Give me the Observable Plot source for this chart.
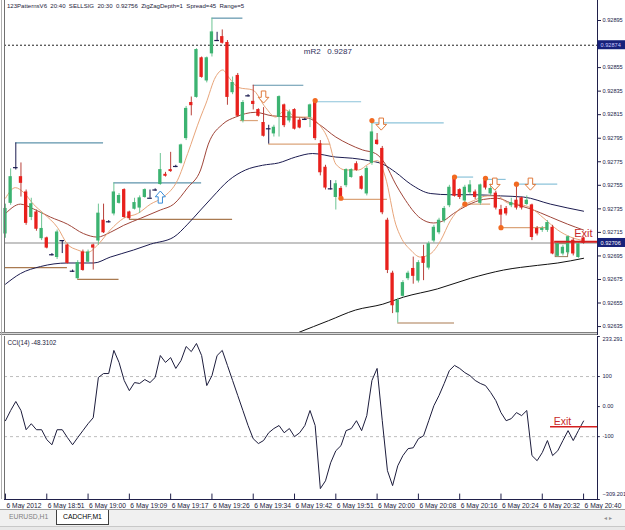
<!DOCTYPE html>
<html><head><meta charset="utf-8">
<script src="https://cdn.jsdelivr.net/npm/d3@7"></script>
<script src="https://cdn.jsdelivr.net/npm/@observablehq/plot@0.6"></script>
<style>
body{margin:0;background:#fff;}
#root{position:relative;width:625px;height:530px;overflow:hidden;background:#fff;font-family:"Liberation Sans",Arial,sans-serif;}
.abs{position:absolute;}
#header{left:7px;top:3px;font-size:6.05px;color:#1a1a3a;white-space:pre;}
#tabs{left:0;top:509px;width:625px;height:21px;background:#f0f0f0;border-top:1px solid #a0a0a0;}
.tab{position:absolute;top:0;height:14px;font-size:6.8px;line-height:14px;padding:0 6px;}
</style></head><body><div id="root">
<div id="main" class="abs" style="left:0;top:0"></div>
<div id="cci" class="abs" style="left:0;top:333px"></div>
<div id="header" class="abs">123PatternsV6  20:40  SELLSIG  20:30  0.92756  ZigZagDepth=1  Spread=45  Range=5</div>
<div class="abs" style="left:0;top:332px;width:597px;height:3px;background:#d8d8d8;border-top:1px solid #808080;border-bottom:1px solid #808080;box-sizing:border-box"></div>
<div class="abs" style="left:1px;top:0;width:1px;height:499px;background:#b0b0b0"></div>
<div id="tabs" class="abs">
  <div class="tab" style="left:3px;color:#808080;">EURUSD,H1</div>
  <div class="tab" style="left:56px;background:#fff;border:1px solid #404040;border-top:none;color:#000;">CADCHF,M1</div>
  <div class="tab" style="left:598px;top:4px;height:8px;line-height:8px;color:#909090;font-size:6px;">◂ ▸</div>
  <div class="abs" style="left:0;top:16px;width:625px;height:5px;background:#e8e8e8;border-top:1px solid #c8c8c8"></div>
</div>
</div>
<script>
// ---------- DATA ----------
const open  = [0.92714,0.92740,0.92770,0.92762,0.92749,0.92728,0.92732,0.92710,0.92710,0.92696,
 0.92694,0.92708,0.92704,0.92682,0.92676,0.92698,0.92690,0.92704,0.92708,0.92725,
 0.92724,0.92731,0.92740,0.92751,0.92732,0.92735,0.92736,0.92745,0.92744,0.92751,
 0.92756,0.92764,0.92768,0.92771,0.92774,0.92795,0.92825,0.92830,0.92863,0.92844,
 0.92867,0.92878,0.92881,0.92876,0.92834,0.92848,0.92810,0.92831,0.92826,0.92819,
 0.92808,0.92803,0.92799,0.92813,0.92823,0.92810,0.92819,0.92810,0.92811,0.92813,
 0.92827,0.92790,0.92770,0.92752,0.92745,0.92752,0.92755,0.92762,0.92773,0.92762,
 0.92748,0.92774,0.92793,0.92786,0.92725,0.92680,0.92647,0.92661,0.92676,0.92684,
 0.92674,0.92694,0.92685,0.92708,0.92715,0.92725,0.92738,0.92762,0.92751,0.92742,
 0.92749,0.92749,0.92740,0.92759,0.92748,0.92748,0.92734,0.92735,0.92738,0.92742,
 0.92744,0.92739,0.92738,0.92718,0.92717,0.92717,0.92719,0.92695,0.92697,0.92698,
 0.92708,0.92694,0.92710];
const high  = [0.92739,0.92769,0.92791,0.92774,0.92751,0.92744,0.92734,0.92732,0.92711,0.92697,
 0.92717,0.92708,0.92705,0.92683,0.92691,0.92700,0.92700,0.92705,0.92739,0.92739,
 0.92725,0.92757,0.92748,0.92752,0.92733,0.92744,0.92746,0.92752,0.92751,0.92752,
 0.92782,0.92766,0.92783,0.92772,0.92790,0.92822,0.92830,0.92871,0.92864,0.92864,
 0.92897,0.92885,0.92887,0.92878,0.92847,0.92850,0.92827,0.92832,0.92840,0.92820,
 0.92821,0.92806,0.92806,0.92831,0.92824,0.92819,0.92820,0.92812,0.92812,0.92824,
 0.92827,0.92793,0.92772,0.92759,0.92759,0.92754,0.92769,0.92769,0.92775,0.92763,
 0.92771,0.92810,0.92799,0.92788,0.92727,0.92682,0.92659,0.92674,0.92682,0.92694,
 0.92691,0.92704,0.92707,0.92721,0.92727,0.92737,0.92755,0.92762,0.92752,0.92755,
 0.92759,0.92751,0.92756,0.92761,0.92756,0.92750,0.92738,0.92737,0.92744,0.92756,
 0.92745,0.92746,0.92739,0.92720,0.92720,0.92725,0.92721,0.92707,0.92704,0.92712,
 0.92710,0.92707,0.92711];
const low   = [0.92710,0.92738,0.92768,0.92745,0.92721,0.92725,0.92716,0.92708,0.92701,0.92695,
 0.92692,0.92697,0.92688,0.92681,0.92675,0.92682,0.92689,0.92683,0.92704,0.92714,
 0.92723,0.92729,0.92739,0.92727,0.92726,0.92734,0.92731,0.92744,0.92744,0.92750,
 0.92755,0.92762,0.92766,0.92770,0.92773,0.92793,0.92814,0.92829,0.92846,0.92842,
 0.92864,0.92878,0.92875,0.92823,0.92832,0.92813,0.92808,0.92830,0.92819,0.92813,
 0.92796,0.92790,0.92796,0.92796,0.92804,0.92808,0.92802,0.92803,0.92810,0.92804,
 0.92793,0.92763,0.92751,0.92751,0.92734,0.92744,0.92753,0.92761,0.92767,0.92751,
 0.92746,0.92772,0.92789,0.92730,0.92680,0.92646,0.92638,0.92660,0.92674,0.92671,
 0.92672,0.92674,0.92683,0.92706,0.92713,0.92723,0.92736,0.92745,0.92743,0.92739,
 0.92747,0.92743,0.92738,0.92751,0.92746,0.92734,0.92719,0.92729,0.92736,0.92734,
 0.92734,0.92738,0.92708,0.92712,0.92715,0.92715,0.92696,0.92694,0.92695,0.92696,
 0.92695,0.92693,0.92705];
const close = [0.92735,0.92762,0.92770,0.92757,0.92723,0.92739,0.92718,0.92718,0.92702,0.92696,
 0.92715,0.92708,0.92689,0.92682,0.92689,0.92683,0.92698,0.92702,0.92731,0.92715,
 0.92724,0.92749,0.92746,0.92728,0.92727,0.92740,0.92744,0.92751,0.92744,0.92751,
 0.92768,0.92763,0.92767,0.92771,0.92789,0.92820,0.92823,0.92870,0.92847,0.92863,
 0.92885,0.92878,0.92876,0.92830,0.92842,0.92814,0.92825,0.92831,0.92824,0.92814,
 0.92797,0.92803,0.92804,0.92830,0.92806,0.92817,0.92803,0.92804,0.92811,0.92823,
 0.92795,0.92766,0.92753,0.92752,0.92756,0.92745,0.92768,0.92768,0.92768,0.92752,
 0.92769,0.92800,0.92790,0.92732,0.92683,0.92653,0.92657,0.92672,0.92680,0.92678,
 0.92689,0.92689,0.92705,0.92719,0.92725,0.92735,0.92753,0.92746,0.92745,0.92753,
 0.92755,0.92745,0.92755,0.92753,0.92752,0.92736,0.92730,0.92731,0.92740,0.92736,
 0.92736,0.92742,0.92711,0.92714,0.92718,0.92723,0.92697,0.92705,0.92702,0.92711,
 0.92697,0.92705,0.92706];

// moving averages (bar position, price)
const maFastIdx = [0,1.9,3.5,5.4,7.4,10.1,12,14,15.9,18,20.3,22.9,25.6,28.1,30.6,33.3,35.3,37.8,38.8,40.7,42.1,43.2,45.2,47.9,50.4,52.3,54.3,56.2,58.7,60.7,62.6,64,65.9,68.4,70.3,72.1,73.6,75.6,76.6,78.5,80.4,82.4,84.3,86.2,88.2,90.7,93.4,95.3,97.3,99.2,101.7,104.3,107,109.5,112];
const maFast = [0.92744,0.92753,0.92749,0.92739,0.92731,0.92719,0.92705,0.92700,0.92698,0.92705,0.92717,0.92727,0.92731,0.92739,0.92745,0.92759,0.92782,0.92813,0.92824,0.92847,0.92853,0.92847,0.92838,0.92836,0.92821,0.92813,0.92819,0.92813,0.92813,0.92807,0.92793,0.92773,0.92768,0.92768,0.92773,0.92776,0.92762,0.92722,0.92711,0.92700,0.92694,0.92697,0.92708,0.92725,0.92736,0.92742,0.92746,0.92746,0.92740,0.92739,0.92736,0.92727,0.92717,0.92711,0.92708];
const maMidIdx = [0,2.9,5.4,8.7,12,15.1,17.8,20.3,22.9,26.2,30,32.6,35.3,37.8,39.3,42.1,44.6,48.4,51.7,55.6,58.7,60.7,64,66.5,69.2,71.7,73.6,75.6,77.1,80.4,82.9,84.9,86.8,89.5,92.6,95.3,97.9,101.7,105.6,108.9,112];
const maMid = [0.92731,0.92739,0.92735,0.92728,0.92722,0.92714,0.92711,0.92715,0.92721,0.92727,0.92734,0.92739,0.92753,0.92768,0.92790,0.92807,0.92813,0.92817,0.92814,0.92813,0.92812,0.92807,0.92796,0.92790,0.92785,0.92782,0.92773,0.92756,0.92745,0.92727,0.92723,0.92725,0.92731,0.92738,0.92743,0.92744,0.92740,0.92735,0.92728,0.92722,0.92717];
const maSlowIdx = [0,2.9,6.8,12,17.1,20.3,24.8,28.1,32.6,35.3,37.8,40.1,43.2,46.5,49.8,52.9,56.2,59.5,64,67.2,70.3,73.1,75.6,78.5,82.4,86.2,90.7,95.9,100.4,105.6,112];
const maSlow = [0.92671,0.92680,0.92686,0.92689,0.92689,0.92694,0.92700,0.92705,0.92711,0.92722,0.92734,0.92745,0.92759,0.92768,0.92772,0.92774,0.92779,0.92782,0.92779,0.92778,0.92776,0.92773,0.92766,0.92756,0.92748,0.92747,0.92747,0.92746,0.92745,0.92739,0.92733];
const maLongIdx = [56.8,62.6,67.8,73.1,77.1,83.7,90.1,96.5,103.1,107,112];
const maLong = [0.92630,0.92640,0.92649,0.92654,0.92660,0.92667,0.92676,0.92683,0.92687,0.92689,0.92693];

// swing levels
const hiFrom = [2,21,40,48,60,71,87,93,99];
const hiTo   = [19,38,46,57.8,69,85,90.7,97,107];
const hiVal  = [0.92791,0.92757,0.92897,0.92840,0.92826,0.92808,0.92762,0.92760,0.92756];
const loFrom = [0,14,24,45.5,51,65,76,89,96];
const loTo   = [12,22,44,49,63,74,87,94,105];
const loVal  = [0.92685,0.92675,0.92726,0.92810,0.92790,0.92743,0.92638,0.92739,0.92719];
const dotIdx = [60,65,71,87,89,93,96,99];
const dotVal = [0.92827,0.92744,0.92810,0.92762,0.92739,0.92761,0.92719,0.92756];
const upArrIdx = [30], upArrVal = [0.92745];
const dnArrIdx = [50,72.8,94.8,101.7], dnArrVal = [0.92830,0.92807,0.92756,0.92756];
const boxFrom = 106.6, boxTo = 109, boxTop = 0.92705, boxBottom = 0.92694;

const mR2 = 0.92874, mR2Label = "mR2   0.9287", mR2Box = "0.92874";
const bid = 0.92706, bidLabel = "0.92706";
const exitPrice = 0.92707, exitFrom = 106.4;
const priceTicks = [0.92895,0.92855,0.92835,0.92815,0.92795,0.92775,0.92755,0.92735,0.92715,0.92695,0.92675,0.92655,0.92635];

// CCI(14)
const cci = [-47,-13,17,-13,-77,-57,-77,-77,-110,-127,-77,-77,-103,-127,-103,-80,-57,-37,97,110,
 110,187,147,87,53,80,77,90,80,97,170,147,163,127,153,200,183,210,170,70,
 103,170,187,137,87,37,-13,-63,-107,-123,-113,-87,-73,-63,-87,-73,-100,-87,-63,-13,
 -63,-273,-247,-187,-147,-130,-80,-73,-47,-80,-30,87,127,-47,-213,-263,-197,-163,-140,-137,
 -107,-97,-47,3,37,77,120,137,127,113,103,87,77,70,47,20,-20,-47,-40,-20,
 -30,-13,-163,-180,-153,-113,-163,-147,-113,-80,-113,-80,-48];
const cciMax = 233.291, cciMin = -309.201;
const cciLevels = [100,-100];
const cciTickVals = [100,0,-100], cciTickText = ["100","0.00","-100"];
const cciExit = -66.7, cciExitFrom = 105.6;

const timeIdx = [0,8,16,24,32,40,48,56,64,72,80,88,96,104,112];
const timeLabels = ["6 May 2012","6 May 18:51","6 May 19:00","6 May 19:09","6 May 19:17","6 May 19:26","6 May 19:34","6 May 19:42","6 May 19:51","6 May 20:00","6 May 20:08","6 May 20:16","6 May 20:24","6 May 20:32","6 May 20:40"];

// ---------- CHART ----------
const W = 625, H1 = 335, H2 = 177;
const xDom = [-0.19, 114.7], xEnd = 114.7, xFar = 120.2;
const GREEN = "#3cb371", RED = "#e8201c", NAVY = "#1c1c50";
const idx = d3.range(open.length);
const kind = i => open[i] === close[i] ? 0 : (close[i] > open[i] ? 1 : -1);
const bodies = idx.filter(i => kind(i) !== 0), dojis = idx.filter(i => kind(i) === 0);
const wickColor = i => kind(i) === 0 ? NAVY : kind(i) > 0 ? "#6cc493" : "#b8413a";
const series = (ix, v) => ix.map((x, k) => ({x, y: v[k]}));
const font = {fontFamily: "Liberation Sans, Arial, sans-serif", background: "transparent", overflow: "visible"};

const upArrow = {draw(c, size) { const s = Math.sqrt(size), w = s*0.52, h = s*0.62, t = w*0.42;
  c.moveTo(0,-h); c.lineTo(w,-h*0.05); c.lineTo(t,-h*0.05); c.lineTo(t,h); c.lineTo(-t,h); c.lineTo(-t,-h*0.05); c.lineTo(-w,-h*0.05); c.closePath(); }};
const downArrow = {draw(c, size) { const s = Math.sqrt(size), w = s*0.55, h = s*0.62, t = w*0.42;
  c.moveTo(0,h); c.lineTo(w,h*0.05); c.lineTo(t,h*0.05); c.lineTo(t,-h); c.lineTo(-t,-h); c.lineTo(-t,h*0.05); c.lineTo(-w,h*0.05); c.closePath(); }};

const main = Plot.plot({
  width: W, height: H1, marginLeft: 4, marginRight: 28, marginTop: 0, marginBottom: 0,
  style: font,
  x: {domain: xDom, axis: null, label: null},
  y: {domain: [0.926274, 0.92912], axis: null, label: null},
  color: {type: "identity"},
  marks: [
    Plot.ruleY([bid], {stroke: "#c4c4c4", strokeWidth: 2}),
    Plot.ruleY([mR2], {stroke: "#202020", strokeDasharray: "2,2"}),
    Plot.text([mR2Label], {x: 57.8, y: mR2, text: d => d, dy: 6, textAnchor: "start", fontSize: 8, fill: "#30305a"}),
    Plot.ruleY(hiVal.map((v, k) => k), {y: k => hiVal[k], x1: k => hiFrom[k], x2: k => hiTo[k], stroke: k => k >= 4 ? "#8cc3da" : "#5e93ab", strokeWidth: 1.2}),
    Plot.ruleY(loVal.map((v, k) => k), {y: k => loVal[k], x1: k => loFrom[k], x2: k => loTo[k], stroke: k => (k === 3 || k === 4 || k === 5 || k === 7 || k === 8) ? "#dba47a" : "#a97a50", strokeWidth: 1.2}),
    Plot.line(series(maSlowIdx, maSlow), {x: "x", y: "y", stroke: NAVY, strokeWidth: 1, curve: "monotone-x"}),
    Plot.line(series(maLongIdx, maLong), {x: "x", y: "y", stroke: "#111", strokeWidth: 1, curve: "monotone-x", clip: true}),
    Plot.line(series(maMidIdx, maMid), {x: "x", y: "y", stroke: "#a0463a", strokeWidth: 1, curve: "monotone-x"}),
    Plot.line(series(maFastIdx, maFast), {x: "x", y: "y", stroke: "#e8a57a", strokeWidth: 1, curve: "monotone-x"}),
    Plot.rect([0], {x1: boxFrom, x2: boxTo, y1: boxTop, y2: boxBottom, stroke: "#9a7a5a", fill: "none", strokeWidth: 1}),
    Plot.ruleX(idx, {x: i => i, y1: i => low[i], y2: i => high[i], stroke: wickColor, strokeWidth: 1}),
    Plot.rect(bodies, {x1: i => i - 0.32, x2: i => i + 0.32, y1: i => open[i], y2: i => close[i], fill: i => kind(i) > 0 ? GREEN : RED, insetTop: -0.4, insetBottom: -0.4}),
    Plot.ruleY(dojis, {y: i => open[i], x1: i => i - 0.45, x2: i => i + 0.45, stroke: NAVY, strokeWidth: 1.2}),
    Plot.dot(dotIdx.map((v, k) => k), {x: k => dotIdx[k], y: k => dotVal[k], r: 2.6, fill: "#f26a21"}),
    Plot.dot(upArrIdx.map((v, k) => k), {x: k => upArrIdx[k], y: k => upArrVal[k], symbol: upArrow, r: 5.5, stroke: "#3b8ed8", fill: "white", strokeWidth: 1}),
    Plot.dot(dnArrIdx.map((v, k) => k), {x: k => dnArrIdx[k], y: k => dnArrVal[k], symbol: downArrow, r: 5.5, stroke: "#e07a3c", fill: "white", strokeWidth: 1}),
    Plot.ruleY([exitPrice], {x1: exitFrom, x2: xEnd, stroke: "#d42020", strokeWidth: 2}),
    Plot.text(["Exit"], {x: 110.2, y: exitPrice, text: d => d, dy: -5, lineAnchor: "bottom", textAnchor: "start", fontSize: 11, fill: "#c8282a"}),
    Plot.ruleX([xDom[0]], {stroke: "#707070"}),
    Plot.ruleX([xEnd], {stroke: "#20204a"}),
    Plot.axisY({anchor: "right", label: null, ticks: priceTicks, tickFormat: d3.format(".5f"), tickSize: 3, tickPadding: 2, fontSize: 5.6, fill: "#1a1a4a", stroke: "#20204a"}),
    Plot.rect([mR2], {x1: xEnd + 0.1, x2: xFar, y1: d => d, y2: d => d, insetTop: -4.5, insetBottom: -4.5, fill: "#17217a"}),
    Plot.text([mR2Box], {x: xEnd + 0.6, y: mR2, text: d => d, textAnchor: "start", fontSize: 5.6, fill: "#c8c8ff"}),
    Plot.rect([bid], {x1: xEnd + 0.1, x2: xFar, y1: d => d, y2: d => d, insetTop: -4.5, insetBottom: -4.5, fill: "#17217a"}),
    Plot.text([bidLabel], {x: xEnd + 0.6, y: bid, text: d => d, textAnchor: "start", fontSize: 5.6, fill: "white"})
  ]
});
document.getElementById("main").append(main);

const cciPlot = Plot.plot({
  width: W, height: H2, marginLeft: 4, marginRight: 28, marginTop: 3, marginBottom: 11,
  style: font,
  x: {domain: xDom, axis: null, label: null},
  y: {domain: [cciMin, cciMax], axis: null, label: null},
  marks: [
    Plot.ruleY(cciLevels, {stroke: "#bdbdbd", strokeDasharray: "3,3"}),
    Plot.line(cci.map((v, i) => ({i, v})), {x: "i", y: "v", stroke: "#1c1c3c", strokeWidth: 1}),
    Plot.ruleY([cciExit], {x1: cciExitFrom, x2: xEnd, stroke: "#d42020", strokeWidth: 1.5}),
    Plot.text(["Exit"], {x: 106.2, y: cciExit, text: d => d, dy: -2, lineAnchor: "bottom", textAnchor: "start", fontSize: 10.5, fill: "#c8282a"}),
    Plot.text(["CCI(14) -48.3102"], {frameAnchor: "top-left", dx: 3, dy: 4, text: d => d, fontSize: 6.3, fill: "#20203a", textAnchor: "start"}),
    Plot.ruleX([xDom[0]], {stroke: "#707070"}),
    Plot.ruleX([xEnd], {stroke: "#20204a"}),
    Plot.ruleY([cciMin], {stroke: "#20204a"}),
    Plot.ruleY(cciTickVals.concat([cciMax, cciMin]), {x1: xEnd, x2: xEnd + 0.55, stroke: "#20204a"}),
    Plot.text(cciTickVals.map((v, k) => k), {x: xEnd, y: k => cciTickVals[k], text: k => cciTickText[k], dx: 5, textAnchor: "start", fontSize: 5.6, fill: "#1a1a4a"}),
    Plot.text([cciMax], {x: xEnd, y: d => d, text: d => d3.format(".3f")(d), dx: 5, dy: 3, textAnchor: "start", fontSize: 5.6, fill: "#1a1a4a"}),
    Plot.text([cciMin], {x: xEnd, y: d => d, text: d => d3.format(".3f")(d), dx: 5, dy: -5, textAnchor: "start", fontSize: 5.6, fill: "#1a1a4a"}),
    Plot.axisX({ticks: timeIdx, label: null, tickFormat: (d, k) => timeLabels[timeIdx.indexOf(d)], anchor: "bottom", tickSize: 0, tickPadding: 3.5, textAnchor: "start", dx: 1, fontSize: 6.7, fill: "#20203a"}),
    Plot.ruleX(timeIdx, {x: d => d, y1: cciMin, y2: cciMin + 18, stroke: "#20204a"})
  ]
});
document.getElementById("cci").append(cciPlot);
</script>
</body></html>
